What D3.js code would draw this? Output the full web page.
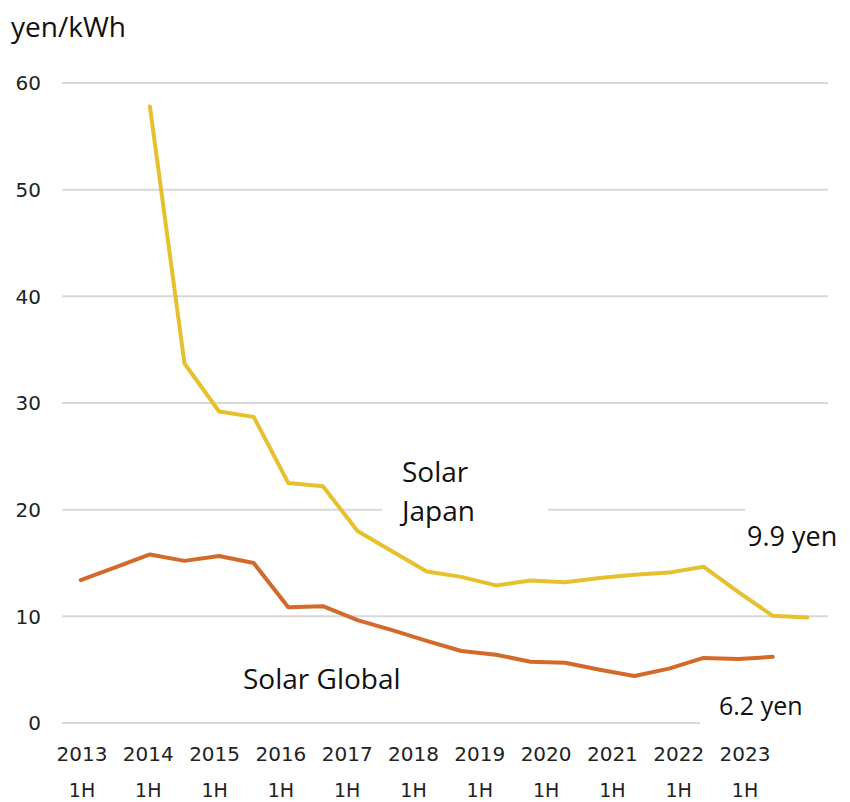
<!DOCTYPE html>
<html>
<head>
<meta charset="utf-8">
<script src="https://cdn.jsdelivr.net/npm/d3@7"></script>
<style>
  html, body { margin: 0; padding: 0; background: #fff; }
  svg { display: block; }
</style>
</head>
<body>
<svg id="chart" width="850" height="802"></svg>
<script>
// Half-year periods, 2013 1H .. 2023 2H
const periods = [];
for (let y = 2013; y <= 2023; y++) { periods.push(y + " 1H", y + " 2H"); }

// Year tick labels (two-line: year / half)
const tickYears = ["2013","2014","2015","2016","2017","2018","2019","2020","2021","2022","2023"];
const tickHalf = "1H";

// LCOE, yen/kWh
const solarGlobal = [13.4, 14.6, 15.8, 15.2, 15.65, 15.0, 10.85, 10.95, 9.65, 8.7, 7.7,
                     6.75, 6.4, 5.75, 5.65, 5.0, 4.4, 5.1, 6.1, 6.0, 6.2];
const solarJapan = [null, null, 57.8, 33.7, 29.2, 28.7, 22.5, 22.2, 18.0, 16.1, 14.2,
                    13.7, 12.9, 13.35, 13.2, 13.6, 13.9, 14.1, 14.65, 12.3, 10.05, 9.9];

const yTicks = [0, 10, 20, 30, 40, 50, 60];

const svg = d3.select("#chart");

const x = d3.scalePoint().domain(periods).range([80.7, 807.3]);
const xTick = d3.scalePoint().domain(tickYears).range([82, 745]);
const y = d3.scaleLinear().domain([0, 60]).range([723, 83]);

const tickFont = "'DejaVu Sans', Verdana, sans-serif";
const textFont = "'Open Sans', Lato, sans-serif";

// gridlines
svg.append("g").selectAll("line").data(yTicks).join("line")
  .attr("x1", 62).attr("x2", 828)
  .attr("y1", d => y(d)).attr("y2", d => y(d))
  .attr("stroke", "#d9d9d9").attr("stroke-width", 2);

// y tick labels
svg.append("g").selectAll("text").data(yTicks).join("text")
  .attr("x", 41).attr("y", d => y(d)).attr("dy", "0.36em")
  .attr("text-anchor", "end")
  .attr("font-family", tickFont).attr("font-size", 20)
  .attr("fill", "#222")
  .text(d => d);

// x tick labels
const xt = svg.append("g").selectAll("g").data(tickYears).join("g")
  .attr("transform", d => `translate(${xTick(d)},0)`);
xt.append("text").attr("y", 761).attr("text-anchor", "middle")
  .attr("font-family", tickFont).attr("font-size", 20).attr("fill", "#222")
  .text(d => d);
xt.append("text").attr("y", 797).attr("text-anchor", "middle")
  .attr("font-family", tickFont).attr("font-size", 19).attr("fill", "#222")
  .text(tickHalf);

// unit label
svg.append("text").attr("x", 11).attr("y", 37)
  .attr("font-family", textFont).attr("font-size", 28).attr("fill", "#111")
  .text("yen/kWh");

const line = d3.line()
  .defined(d => d.v != null)
  .x(d => x(d.p)).y(d => y(d.v));

const seriesData = arr => arr.map((v, i) => ({ p: periods[i], v }));

svg.append("path").datum(seriesData(solarJapan))
  .attr("d", line).attr("fill", "none")
  .attr("stroke", "#E6C02E").attr("stroke-width", 4)
  .attr("stroke-linejoin", "round").attr("stroke-linecap", "round");

svg.append("path").datum(seriesData(solarGlobal))
  .attr("d", line).attr("fill", "none")
  .attr("stroke", "#D3692A").attr("stroke-width", 4)
  .attr("stroke-linejoin", "round").attr("stroke-linecap", "round");

// annotation boxes
const boxes = [
  { x: 382, y: 452, w: 166, h: 86, lines: ["Solar", "Japan"], tx: 402, ty: [482, 521], size: 28 },
  { x: 236, y: 647, w: 204, h: 50, lines: ["Solar Global"], tx: 243, ty: [689], size: 28 },
  { x: 745, y: 508, w: 105, h: 84, lines: ["9.9 yen"], tx: 747, ty: [546], size: 27 },
  { x: 700, y: 677, w: 150, h: 60, lines: ["6.2 yen"], tx: 719, ty: [715], size: 25 }
];
const bg = svg.append("g").selectAll("g").data(boxes).join("g");
bg.append("rect")
  .attr("x", d => d.x).attr("y", d => d.y)
  .attr("width", d => d.w).attr("height", d => d.h)
  .attr("fill", "#fff");
bg.each(function(d) {
  const g = d3.select(this);
  d.lines.forEach((t, i) => {
    g.append("text").attr("x", d.tx).attr("y", d.ty[i])
      .attr("font-family", textFont).attr("font-size", d.size).attr("fill", "#111")
      .text(t);
  });
});
</script>
</body>
</html>
